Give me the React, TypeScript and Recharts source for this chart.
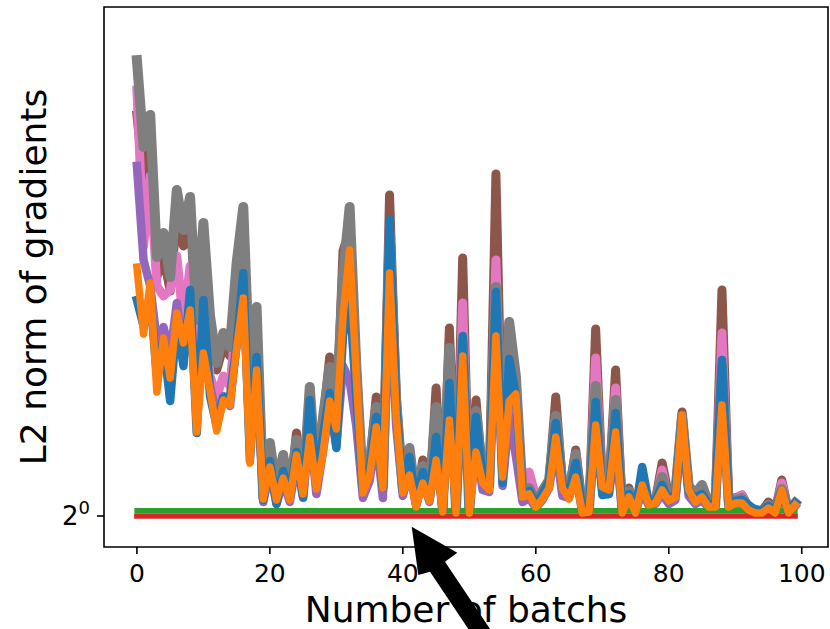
import { LineChart, Line, XAxis, YAxis, ReferenceArea, Label } from 'recharts';

// batch index on the x axis
const batches = Array.from({ length: 100 }, (_, i) => i);

// L2 norm of gradients per run (mostly between 2^0 and ~1.9)
const blueRun = [
  1.432, 1.38, 1.44, 1.28, 1.35, 1.23, 1.39, 1.3, 1.452, 1.166, 1.432, 1.24, 1.18, 1.236, 1.24, 1.34, 1.486, 1.11, 1.318, 1.032,
  1.11, 1.024, 1.09, 1.04, 1.128, 1.038, 1.232, 1.06, 1.16, 1.246, 1.136, 1.36, 1.44, 1.24, 1.05, 1.09, 1.198, 1.056, 1.592, 1.22,
  1.05, 1.118, 1.024, 1.088, 1.036, 1.158, 1.012, 1.266, 1.01, 1.36, 1.01, 1.198, 1.076, 1.06, 1.448, 1.066, 1.314, 1.24, 1.044, 1.05,
  1.024, 1.044, 1.07, 1.186, 1.06, 1.044, 1.106, 1.012, 1.012, 1.228, 1.042, 1.044, 1.206, 1.012, 1.044, 1.012, 1.098, 1.026, 1.03, 1.062,
  1.03, 1.044, 1.2, 1.048, 1.036, 1.044, 1.022, 1.022, 1.312, 1.024, 1.03, 1.032, 1.022, 1.012, 1.01, 1.02, 1.01, 1.05, 1.01, 1.026,
];
const orangeRun = [
  1.498, 1.364, 1.466, 1.248, 1.356, 1.276, 1.406, 1.346, 1.412, 1.168, 1.326, 1.252, 1.17, 1.232, 1.222, 1.336, 1.436, 1.106, 1.292, 1.034,
  1.098, 1.032, 1.076, 1.032, 1.122, 1.044, 1.158, 1.054, 1.126, 1.23, 1.174, 1.398, 1.532, 1.278, 1.046, 1.08, 1.178, 1.056, 1.486, 1.2,
  1.046, 1.082, 1.018, 1.066, 1.03, 1.112, 1.008, 1.192, 1.006, 1.32, 1.006, 1.128, 1.066, 1.052, 1.36, 1.078, 1.23, 1.244, 1.038, 1.044,
  1.018, 1.034, 1.056, 1.158, 1.056, 1.034, 1.078, 1.006, 1.008, 1.182, 1.058, 1.052, 1.168, 1.006, 1.038, 1.006, 1.062, 1.022, 1.026, 1.052,
  1.03, 1.038, 1.202, 1.052, 1.028, 1.038, 1.018, 1.018, 1.222, 1.018, 1.026, 1.026, 1.012, 1.006, 1.006, 1.016, 1.006, 1.052, 1.006, 1.022,
];
const purpleRun = [
  1.7, 1.512, 1.46, 1.35, 1.378, 1.32, 1.426, 1.32, 1.42, 1.2, 1.38, 1.26, 1.2, 1.24, 1.22, 1.35, 1.46, 1.14, 1.3, 1.028,
  1.09, 1.024, 1.07, 1.028, 1.11, 1.036, 1.18, 1.044, 1.13, 1.22, 1.14, 1.3, 1.27, 1.18, 1.036, 1.07, 1.16, 1.036, 1.46, 1.18,
  1.04, 1.09, 1.02, 1.07, 1.028, 1.12, 1.01, 1.22, 1.008, 1.34, 1.008, 1.14, 1.052, 1.048, 1.4, 1.06, 1.2, 1.12, 1.028, 1.036,
  1.016, 1.032, 1.056, 1.14, 1.04, 1.036, 1.08, 1.008, 1.008, 1.16, 1.052, 1.044, 1.14, 1.008, 1.032, 1.008, 1.052, 1.02, 1.024, 1.044,
  1.024, 1.032, 1.18, 1.04, 1.024, 1.032, 1.016, 1.016, 1.24, 1.016, 1.02, 1.02, 1.01, 1.006, 1.006, 1.012, 1.006, 1.044, 1.006, 1.02,
];
const brownRun = [
  1.802, 1.672, 1.74, 1.478, 1.52, 1.45, 1.6, 1.54, 1.6, 1.38, 1.56, 1.36, 1.292, 1.34, 1.32, 1.48, 1.58, 1.24, 1.4, 1.04,
  1.136, 1.048, 1.116, 1.04, 1.166, 1.052, 1.254, 1.064, 1.19, 1.318, 1.19, 1.53, 1.57, 1.3, 1.06, 1.104, 1.238, 1.06, 1.642, 1.24,
  1.056, 1.132, 1.028, 1.112, 1.04, 1.256, 1.016, 1.376, 1.012, 1.516, 1.012, 1.232, 1.08, 1.064, 1.684, 1.1, 1.36, 1.26, 1.048, 1.06,
  1.028, 1.052, 1.072, 1.238, 1.064, 1.048, 1.132, 1.016, 1.014, 1.374, 1.064, 1.06, 1.292, 1.016, 1.056, 1.012, 1.064, 1.028, 1.032, 1.106,
  1.04, 1.048, 1.208, 1.056, 1.044, 1.052, 1.024, 1.024, 1.452, 1.038, 1.036, 1.042, 1.018, 1.012, 1.01, 1.028, 1.01, 1.072, 1.01, 1.026,
];
const pinkRun = [
  1.852, 1.54, 1.68, 1.46, 1.44, 1.452, 1.52, 1.386, 1.5, 1.3, 1.44, 1.28, 1.238, 1.28, 1.26, 1.4, 1.5, 1.18, 1.34, 1.036,
  1.104, 1.036, 1.09, 1.036, 1.13, 1.048, 1.2, 1.06, 1.15, 1.26, 1.16, 1.4, 1.45, 1.24, 1.05, 1.084, 1.2, 1.052, 1.58, 1.22,
  1.05, 1.11, 1.024, 1.09, 1.036, 1.18, 1.012, 1.3, 1.01, 1.426, 1.01, 1.18, 1.072, 1.06, 1.512, 1.09, 1.28, 1.22, 1.044, 1.088,
  1.038, 1.044, 1.066, 1.2, 1.056, 1.044, 1.1, 1.012, 1.012, 1.316, 1.06, 1.056, 1.256, 1.012, 1.044, 1.01, 1.06, 1.024, 1.028, 1.092,
  1.032, 1.044, 1.2, 1.052, 1.036, 1.048, 1.02, 1.02, 1.366, 1.032, 1.034, 1.042, 1.016, 1.01, 1.008, 1.022, 1.008, 1.066, 1.008, 1.024,
];
const grayRun = [
  1.912, 1.738, 1.802, 1.518, 1.566, 1.478, 1.652, 1.572, 1.638, 1.392, 1.586, 1.4, 1.306, 1.366, 1.338, 1.506, 1.618, 1.266, 1.418, 1.038,
  1.146, 1.052, 1.122, 1.042, 1.152, 1.052, 1.258, 1.066, 1.198, 1.298, 1.21, 1.48, 1.618, 1.3, 1.06, 1.1, 1.218, 1.06, 1.56, 1.23,
  1.056, 1.136, 1.028, 1.1, 1.04, 1.218, 1.016, 1.336, 1.012, 1.35, 1.012, 1.21, 1.08, 1.064, 1.458, 1.12, 1.388, 1.28, 1.048, 1.056,
  1.028, 1.048, 1.072, 1.2, 1.064, 1.048, 1.124, 1.016, 1.014, 1.26, 1.064, 1.06, 1.232, 1.016, 1.05, 1.012, 1.06, 1.028, 1.032, 1.078,
  1.036, 1.048, 1.2, 1.06, 1.044, 1.062, 1.024, 1.024, 1.3, 1.028, 1.032, 1.036, 1.018, 1.012, 1.01, 1.022, 1.01, 1.054, 1.01, 1.026,
];
// the two flat runs sit right on 2^0
const greenLevel = 1.011;
const redLevel = 1.0;

const xTicks = [0, 20, 40, 60, 80, 100];
const yTicks = [1];

const chartData = batches.map((b, i) => ({
  batch: b,
  blue: blueRun[i],
  orange: orangeRun[i],
  green: greenLevel,
  red: redLevel,
  purple: purpleRun[i],
  brown: brownRun[i],
  pink: pinkRun[i],
  gray: grayRun[i],
}));

const FONT = 'DejaVu Sans';
const X_DOMAIN: [number, number] = [-4.95, 103.95];
const Y_DOMAIN: [number, number] = [0.938, 2.018];

const XTick = ({ x, y, payload }: any) => (
  <text x={x} y={y} dy={26} textAnchor="middle" fontSize={25} fontFamily={FONT} fill="#000">
    {payload.value}
  </text>
);

const YTick = ({ x, y }: any) => (
  <text x={x} y={y} dy={9} textAnchor="end" fontSize={26} fontFamily={FONT} fill="#000">
    2
    <tspan dy={-11} fontSize={18}>
      0
    </tspan>
  </text>
);

const seriesOrder = [
  { key: 'brown', color: '#8c564b', width: 9 },
  { key: 'pink', color: '#e377c2', width: 9 },
  { key: 'purple', color: '#9467bd', width: 8.5 },
  { key: 'gray', color: '#7f7f7f', width: 10 },
  { key: 'red', color: '#d62728', width: 5.5 },
  { key: 'green', color: '#2ca02c', width: 5 },
  { key: 'blue', color: '#1f77b4', width: 8.5 },
  { key: 'orange', color: '#ff7f0e', width: 7.5 },
];

const App = () => {
  return (
    <div style={{ position: 'absolute', left: 0, top: 0, width: 830, height: 629, background: '#fff' }}>
      <LineChart width={830} height={629} data={chartData} margin={{ top: 7, right: 2, left: 0, bottom: 0 }}>
        <XAxis
          dataKey="batch"
          type="number"
          domain={X_DOMAIN}
          allowDataOverflow
          ticks={xTicks}
          height={82}
          axisLine={false}
          tickLine={{ stroke: '#000', strokeWidth: 1.6 }}
          tickSize={7}
          tick={<XTick />}
        >
          <Label
            content={({ viewBox }: any) => (
              <text
                x={viewBox.x + viewBox.width / 2}
                y={viewBox.y + 75}
                textAnchor="middle"
                fontSize={36}
                fontFamily={FONT}
                fill="#000"
              >
                Number of batchs
              </text>
            )}
          />
        </XAxis>
        <YAxis
          type="number"
          domain={Y_DOMAIN}
          allowDataOverflow
          ticks={yTicks}
          width={104}
          axisLine={false}
          tickLine={{ stroke: '#000', strokeWidth: 1.6 }}
          tickSize={7}
          tickMargin={7}
          tick={<YTick />}
        >
          <Label
            content={({ viewBox }: any) => {
              const cx = viewBox.x + 46;
              const cy = viewBox.y + viewBox.height / 2;
              return (
                <text
                  x={cx}
                  y={cy}
                  transform={`rotate(-90 ${cx} ${cy})`}
                  textAnchor="middle"
                  fontSize={36}
                  fontFamily={FONT}
                  fill="#000"
                >
                  L2 norm of gradients
                </text>
              );
            }}
          />
        </YAxis>
        {seriesOrder.map((s) => (
          <Line
            key={s.key}
            type="linear"
            dataKey={s.key}
            stroke={s.color}
            strokeWidth={s.width}
            strokeLinejoin="round"
            strokeLinecap="square"
            dot={false}
            activeDot={false}
            isAnimationActive={false}
          />
        ))}
        <ReferenceArea
          x1={X_DOMAIN[0]}
          x2={X_DOMAIN[1]}
          y1={Y_DOMAIN[0]}
          y2={Y_DOMAIN[1]}
          fill="none"
          stroke="#000"
          strokeWidth={1.6}
        />
      </LineChart>
      {/* annotation arrow pointing at the flat runs */}
      <svg width={830} height={629} style={{ position: 'absolute', left: 0, top: 0, pointerEvents: 'none' }}>
        <polygon
          points="411.7,526.7 457.3,552.7 445,561.7 497.4,640 475.7,640 430,571.7 418.3,575"
          fill="#000"
        />
      </svg>
    </div>
  );
};

export default App;
